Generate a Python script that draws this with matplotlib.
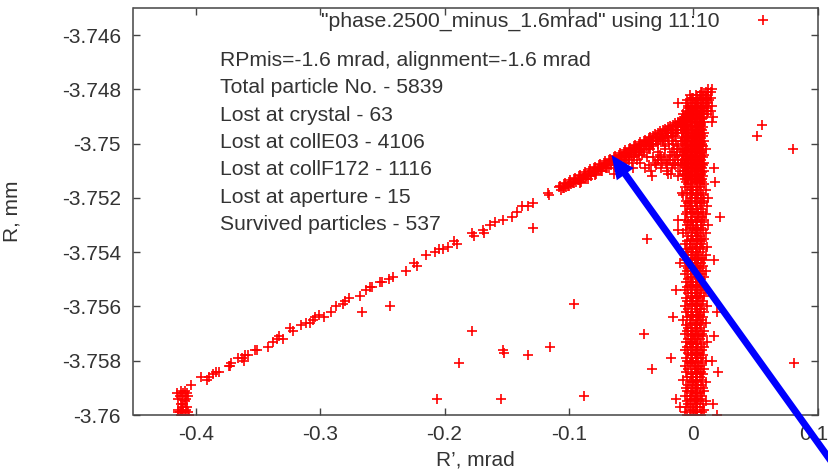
#!/usr/bin/env python

import matplotlib
matplotlib.use("Agg")
import matplotlib.pyplot as plt
from matplotlib.transforms import ScaledTranslation

plt.rcParams['font.family'] = ['Liberation Sans', 'DejaVu Sans']

# values, R' in mrad and R in mm
x_ticks = [-0.4, -0.3, -0.2, -0.1, 0, 0.1]
x_labels = ['-0.4', '-0.3', '-0.2', '-0.1', '0', '0.1']
y_ticks = [-3.746, -3.748, -3.75, -3.752, -3.754, -3.756, -3.758, -3.76]
y_labels = ['-3.746', '-3.748', '-3.75', '-3.752', '-3.754', '-3.756', '-3.758', '-3.76']

info_lines = ['RPmis=-1.6 mrad, alignment=-1.6 mrad',
              'Total particle No. - 5839',
              'Lost at crystal - 63',
              'Lost at collE03 - 4106',
              'Lost at collF172 - 1116',
              'Lost at aperture - 15',
              'Survived particles - 537']

key_label = '"phase.2500_minus_1.6mrad" using 11:10'

# clump at the low end of the tail
clump_x = [-.415, -.412, -.409, -.407, -.413, -.410, -.406, -.414, -.411, -.408,
           -.412, -.409, -.414, -.411, -.407, -.413, -.410, -.408, -.406, -.412,
           -.409, -.414, -.411, -.405, -.410]
clump_y = [-3.7592, -3.7591, -3.7591, -3.7592, -3.7593, -3.7592, -3.7593, -3.7594, -3.7593, -3.7594,
           -3.7596, -3.7595, -3.7598, -3.7598, -3.7597, -3.7599, -3.7599, -3.7598, -3.7599, -3.7600,
           -3.7600, -3.7599, -3.7597, -3.7600, -3.7596]

# the long thin tail
tail_x = [-.404, -.3954, -.391, -.389, -.386, -.3834, -.381, -.373, -.372, -.3725,
          -.366, -.3625, -.3615, -.36, -.358, -.3526, -.351, -.3418, -.338, -.335,
          -.333, -.33, -.324, -.3218, -.315, -.3116, -.308, -.306, -.304, -.301,
          -.297, -.291, -.2875, -.2816, -.28, -.277, -.2676, -.2634, -.26, -.258,
          -.252, -.25, -.2446, -.2414, -.2306, -.2248, -.2225, -.2145, -.2078, -.2046,
          -.201, -.197, -.192, -.19, -.178, -.176, -.169, -.168, -.1635, -.1595,
          -.153, -.146, -.1415, -.138, -.133, -.129, -.117, -.116]
tail_y = [-3.7589, -3.7586, -3.7587, -3.7586, -3.7585, -3.7584, -3.7584, -3.7582, -3.7581, -3.7582,
          -3.7579, -3.7579, -3.7580, -3.7578, -3.7578, -3.7576, -3.7576, -3.7575, -3.7573, -3.7572,
          -3.7571, -3.7572, -3.7568, -3.7569, -3.7567, -3.7566, -3.7566, -3.7565, -3.7564, -3.7563,
          -3.7564, -3.7562, -3.7560, -3.7559, -3.7558, -3.7557, -3.7556, -3.7554, -3.7553, -3.7553,
          -3.7551, -3.7551, -3.7550, -3.7549, -3.7547, -3.7544, -3.7545, -3.7541, -3.7540, -3.7539,
          -3.7539, -3.7538, -3.7536, -3.7537, -3.7533, -3.7534, -3.7532, -3.7533, -3.7530, -3.7529,
          -3.7528, -3.7527, -3.7525, -3.7523, -3.7523, -3.7522, -3.7518, -3.7519]

# thick ridge running up to the top of the stem, rows of points
ridge_x1 = [-.108, -.104, -.100, -.096, -.092, -.088, -.084, -.080, -.076, -.072,
            -.068, -.064, -.060, -.056, -.052, -.048, -.044, -.040, -.036, -.032,
            -.028, -.024, -.020, -.016, -.012, -.008, -.004]
ridge_y1 = [-3.7516, -3.7515, -3.7514, -3.7513, -3.7512, -3.7511, -3.7510, -3.7509, -3.7508, -3.7507,
            -3.7506, -3.7505, -3.7504, -3.7503, -3.7502, -3.7501, -3.7500, -3.7499, -3.7498, -3.7497,
            -3.7496, -3.7495, -3.7494, -3.7493, -3.7492, -3.7491, -3.7490]
ridge_x2 = [-.106, -.102, -.098, -.094, -.090, -.086, -.082, -.078, -.074, -.070,
            -.066, -.062, -.058, -.054, -.050, -.046, -.042, -.038, -.034, -.030,
            -.026, -.022, -.018, -.014, -.010, -.006, -.002]
ridge_y2 = [-3.7517, -3.7516, -3.7515, -3.7514, -3.7513, -3.7512, -3.7511, -3.7510, -3.7509, -3.7508,
            -3.7507, -3.7506, -3.7505, -3.7504, -3.7503, -3.7502, -3.7501, -3.7500, -3.7499, -3.7498,
            -3.7497, -3.7496, -3.7495, -3.7494, -3.7493, -3.7492, -3.7491]
ridge_x3 = [-.090, -.086, -.082, -.078, -.074, -.070, -.066, -.062, -.058, -.054,
            -.050, -.046, -.042, -.038, -.034, -.030, -.026, -.022, -.018, -.014,
            -.010, -.006, -.002]
ridge_y3 = [-3.7514, -3.7513, -3.7512, -3.7511, -3.7510, -3.7509, -3.7508, -3.7507, -3.7506, -3.7505,
            -3.7504, -3.7503, -3.7502, -3.7501, -3.7500, -3.7499, -3.7498, -3.7497, -3.7496, -3.7495,
            -3.7494, -3.7493, -3.7492]
ridge_x4 = [-.068, -.064, -.060, -.056, -.052, -.048, -.044, -.040, -.036, -.032,
            -.028, -.024, -.020, -.016, -.012]
ridge_y4 = [-3.7509, -3.7508, -3.7507, -3.7506, -3.7505, -3.7504, -3.7503, -3.7502, -3.7501, -3.7500,
            -3.7499, -3.7498, -3.7497, -3.7496, -3.7495]
ridge_x5 = [-.107, -.103, -.099, -.095, -.091, -.087, -.083, -.079, -.075, -.071,
            -.067, -.063, -.059, -.055, -.051, -.047, -.043, -.039, -.035, -.031,
            -.027, -.023, -.019, -.015, -.011, -.007, -.003]
ridge_y5 = [-3.75155, -3.75145, -3.75135, -3.75125, -3.75115, -3.75105, -3.75095, -3.75085, -3.75075, -3.75065,
            -3.75055, -3.75045, -3.75035, -3.75025, -3.75015, -3.75005, -3.74995, -3.74985, -3.74975, -3.74965,
            -3.74955, -3.74945, -3.74935, -3.74925, -3.74915, -3.74905, -3.74895]
ridge_x6 = [-.105, -.101, -.097, -.093, -.089, -.085, -.081, -.077, -.073, -.069,
            -.065, -.061, -.057, -.053, -.049, -.045, -.041, -.037, -.033, -.029,
            -.025, -.021, -.017, -.013, -.009, -.005, -.001]
ridge_y6 = [-3.75165, -3.75155, -3.75145, -3.75135, -3.75125, -3.75115, -3.75105, -3.75095, -3.75085, -3.75075,
            -3.75065, -3.75055, -3.75045, -3.75035, -3.75025, -3.75015, -3.75005, -3.74995, -3.74985, -3.74975,
            -3.74965, -3.74955, -3.74945, -3.74935, -3.74925, -3.74915, -3.74905]
ridge_x7 = [-.091, -.085, -.079, -.073, -.069, -.063, -.057, -.053, -.047, -.043,
            -.037, -.033, -.027, -.023, -.017, -.013]
ridge_y7 = [-3.75145, -3.7513, -3.75115, -3.7510, -3.7509, -3.75075, -3.7506, -3.7505, -3.75035, -3.75025,
            -3.7501, -3.7500, -3.74985, -3.74975, -3.7496, -3.7495]
ridge_x8 = [-.104, -.100, -.096, -.092, -.088, -.084, -.080, -.076, -.072]
ridge_y8 = [-3.75165, -3.75155, -3.75145, -3.75135, -3.75125, -3.75115, -3.75105, -3.75095, -3.75085]
ridge_x9 = [-.060, -.056, -.052, -.048, -.044, -.040, -.036, -.032, -.028, -.024, -.020, -.016]
ridge_y9 = [-3.7508, -3.7507, -3.7506, -3.7505, -3.7504, -3.7503, -3.7502, -3.7501, -3.7500, -3.7499, -3.7498, -3.7497]

# loose points under the ridge
wedge_x = [-.0336, -.0389, -.0416, -.0255, -.0175, -.0120, -.0175, -.0120, -.0080, -.0095,
           -.0230, -.0190, -.0285, -.0349, -.0080, -.0100, -.0120, -.0482, -.0495, -.0550,
           -.0300, -.0260, -.0210, -.0150, -.0340, -.0430, -.0600, -.0640, -.0240, -.0220,
           -.0200, -.0270, -.0310, -.0170, -.0150, -.0130, -.0110, -.0185, -.0165, -.0145,
           -.0285, -.0215, -.0195, -.0135, -.0375, -.0355, -.0260, -.0235, -.0205, -.0180,
           -.0155, -.0125, -.0105, -.0280, -.0225, -.0160, -.0140, -.0325, -.0450, -.0520]
wedge_y = [-3.7512, -3.7509, -3.7504, -3.7507, -3.7509, -3.7512, -3.7499, -3.7501, -3.7496, -3.7499,
           -3.7502, -3.7504, -3.7506, -3.7502, -3.7504, -3.7507, -3.7508, -3.7509, -3.7507, -3.7507,
           -3.7508, -3.7509, -3.7510, -3.7505, -3.7510, -3.7507, -3.7510, -3.7511, -3.7499, -3.7507,
           -3.7511, -3.7504, -3.7507, -3.7503, -3.7497, -3.7504, -3.7510, -3.7506, -3.7500, -3.7508,
           -3.7503, -3.7508, -3.7500, -3.7502, -3.7505, -3.7508, -3.7505, -3.7505, -3.7506, -3.7511,
           -3.7502, -3.7506, -3.7503, -3.7506, -3.7501, -3.7507, -3.7499, -3.7505, -3.7506, -3.7505]

# solid stem below the ridge
stem_y = [-3.7488, -3.7489, -3.7490, -3.7491, -3.7492, -3.7493, -3.7494, -3.7495, -3.7496, -3.7497,
          -3.7498, -3.7499, -3.7500, -3.7501, -3.7502, -3.7503, -3.7504, -3.7505, -3.7506, -3.7507,
          -3.7508, -3.7509, -3.7510, -3.7511, -3.7512, -3.7513]
stem_x1 = [-.006, -.008, -.007, -.009, -.006, -.008, -.007, -.009, -.008, -.006,
           -.009, -.007, -.008, -.006, -.009, -.007, -.008, -.006, -.009, -.007,
           -.008, -.006, -.007, -.008, -.006, -.007]
stem_x2 = [-.003, -.004, -.002, -.005, -.003, -.004, -.002, -.004, -.005, -.003,
           -.004, -.002, -.005, -.003, -.004, -.002, -.005, -.003, -.004, -.002,
           -.004, -.003, -.002, -.004, -.003, -.002]
stem_x3 = [.000, .001, -.001, .000, .001, -.001, .001, .000, -.001, .001,
           .000, -.001, .001, .000, .001, -.001, .000, .001, -.001, .000,
           .001, .000, .001, -.001, .001, .000]
stem_x4 = [.003, .004, .005, .003, .004, .005, .003, .005, .004, .003,
           .005, .004, .003, .005, .004, .003, .005, .004, .003, .005,
           .004, .003, .005, .004, .003, .004]
stem_x5 = [.007, .006, .008, .007, .009, .006, .008, .007, .009, .008,
           .006, .009, .007, .008, .010, .007, .009, .008, .006, .009,
           .008, .007, .009, .006, .008, .007]
stem_y2 = [-3.74885, -3.74895, -3.74905, -3.74915, -3.74925, -3.74935, -3.74945, -3.74955, -3.74965, -3.74975,
           -3.74985, -3.74995, -3.75005, -3.75015, -3.75025, -3.75035, -3.75045, -3.75055, -3.75065, -3.75075,
           -3.75085, -3.75095, -3.75105, -3.75115, -3.75125, -3.75135]
stem_x6 = [-.005, -.006, -.004, -.007, -.005, -.006, -.004, -.007, -.006, -.004,
           -.007, -.005, -.006, -.004, -.007, -.005, -.006, -.004, -.007, -.005,
           -.006, -.004, -.005, -.006, -.004, -.005]
stem_x7 = [-.001, .000, .002, -.002, .001, .002, -.001, .002, .001, -.001,
           .002, .001, -.002, .002, -.001, .001, .002, -.002, .001, .002,
           -.001, .002, -.001, .001, -.001, .002]
stem_x8 = [.005, .003, .006, .005, .006, .003, .006, .004, .006, .005,
           .003, .006, .005, .004, .007, .005, .006, .005, .004, .007,
           .006, .004, .007, .003, .005, .006]

# cap above the ridge
cap_x = [.012, .015, .010, .014, .006, .009, .012, .002, .005, .008, .011, .014,
         -.003, .000, .003, .006, .010, .013, -.005, -.002, .001, .004, .008, .012,
         -.006, -.003, .000, .003, .007, .011, .015, -.004, -.001, .002, .006, .010,
         .014, -.002, .001, .005, .009, .012, .016, .000, .004, .008, .011, .015,
         .007, .010, .004, -.001, .002, .005, -.004, .001, .006, .009, -.002, .003]
cap_y = [-3.7480, -3.7480, -3.7481, -3.7481, -3.7481, -3.7482, -3.7482, -3.7482, -3.7482, -3.7483, -3.7483, -3.7483,
         -3.7482, -3.7483, -3.7483, -3.7484, -3.7484, -3.7484, -3.7484, -3.7484, -3.7485, -3.7485, -3.7485, -3.7485,
         -3.7485, -3.7486, -3.7486, -3.7486, -3.7486, -3.7486, -3.7486, -3.7487, -3.7487, -3.7487, -3.7487, -3.7487,
         -3.7488, -3.7488, -3.7488, -3.7488, -3.7488, -3.7488, -3.7490, -3.7489, -3.7489, -3.7489, -3.7489, -3.7492,
         -3.7481, -3.7483, -3.7484, -3.7483, -3.7485, -3.7484, -3.7486, -3.7486, -3.7487, -3.7486, -3.7488, -3.7488]

# long vertical band, points per row
band_y = [-3.7514, -3.7515, -3.7516, -3.7517, -3.7518, -3.7519, -3.7520, -3.7521, -3.7522, -3.7523,
          -3.7524, -3.7525, -3.7526, -3.7527, -3.7528, -3.7529, -3.7530, -3.7531, -3.7532, -3.7533,
          -3.7534, -3.7535, -3.7536, -3.7537, -3.7538, -3.7539, -3.7540, -3.7541, -3.7542, -3.7543,
          -3.7544, -3.7545, -3.7546, -3.7547, -3.7548, -3.7549, -3.7550, -3.7551, -3.7552, -3.7553,
          -3.7554, -3.7555, -3.7556, -3.7557, -3.7558, -3.7559, -3.7560, -3.7561, -3.7562, -3.7563,
          -3.7564, -3.7565, -3.7566, -3.7567, -3.7568, -3.7569, -3.7570, -3.7571, -3.7572, -3.7573,
          -3.7574, -3.7575, -3.7576, -3.7577, -3.7578, -3.7579, -3.7580, -3.7581, -3.7582, -3.7583,
          -3.7584, -3.7585, -3.7586, -3.7587, -3.7588, -3.7589, -3.7590, -3.7591, -3.7592, -3.7593,
          -3.7594, -3.7595, -3.7596, -3.7597, -3.7598, -3.7599, -3.7600]
band_x1 = [-.006, -.004, -.007, -.003, -.005, -.008, -.002, -.006, -.004, -.007,
           -.003, -.005, -.006, -.002, -.007, -.004, -.005, -.003, -.006, -.008,
           -.004, -.002, -.005, -.007, -.003, -.006, -.004, -.005, -.002, -.007,
           -.003, -.006, -.004, -.005, -.007, -.002, -.004, -.006, -.003, -.005,
           -.007, -.004, -.002, -.006, -.005, -.003, -.007, -.004, -.006, -.002,
           -.005, -.008, -.003, -.006, -.004, -.005, -.007, -.002, -.004, -.006,
           -.003, -.005, -.007, -.004, -.002, -.006, -.005, -.003, -.007, -.004,
           -.006, -.002, -.005, -.008, -.003, -.004, -.006, -.005, -.002, -.007,
           -.003, -.005, -.004, -.006, -.003, -.007, -.005]
band_x2 = [.001, -.001, .003, .000, .002, -.001, .004, .001, .002, -.002,
           .003, .000, .001, .004, -.001, .002, .000, .003, .001, -.001,
           .002, .004, .000, .001, .003, -.001, .002, .000, .004, .001,
           .002, -.001, .003, .000, .001, .004, .002, -.001, .000, .003,
           .001, .002, .004, -.001, .000, .003, .001, .002, -.001, .004,
           .000, .002, .003, .001, -.001, .002, .000, .004, .001, .003,
           -.001, .002, .000, .001, .003, .002, -.001, .000, .004, .001,
           .002, .003, -.001, .000, .002, .001, .003, -.001, .002, .000,
           .004, .001, .002, .000, .003, .001, .002]
band_x3 = [.007, .009, .005, .010, .006, .008, .012, .009, .007, .011,
           .006, .008, .010, .005, .009, .007, .012, .006, .008, .010,
           .005, .009, .007, .006, .011, .008, .005, .010, .007, .009,
           .006, .008, .005, .010, .007, .009, .006, .005, .008, .007,
           .010, .006, .009, .005, .008, .007, .011, .006, .009, .005,
           .008, .007, .010, .006, .005, .009, .007, .008, .005, .011,
           .006, .009, .007, .005, .008, .006, .010, .007, .005, .009,
           .006, .008, .005, .007, .010, .006, .008, .009, .005, .007,
           .006, .010, .008, .005, .009, .007, .006]
band_x4 = [.003, .005, -.002, .004, -.001, .003, .006, -.003, .005, .003,
           -.001, .004, .004, .007, .003, -.002, .006, .000, .004, .003,
           -.001, .006, .003, -.003, .005, .002, -.001, .004, .001, .003,
           -.001, .004, .000, .005, .003, -.002, .005, .002, .004, -.002,
           .005, -.001, .003, .002, .004, -.001, .003, .005, .003, -.001,
           .004, -.002, .005, .003, .002, -.002, .004, .001, -.002, .000,
           .003, -.002, .004, .003, -.001, .004, .002, -.002, .001, .004,
           .002, -.001, .003, .002, -.001, .004, .000, .002, .003, -.002,
           .001, .003, -.002, .003, .000, .003, -.002]

# single points away from the main shapes
stray_x = [-.0373, -.0957, -.178, -.0397, -.1528, -.152, -.1332, -.1153, -.1885, -.018,
           -.0335, .0809, -.206, -.1544, -.0879, .0549, .0514, .0799, -.0126, .0169,
           .0174, .0214, -.012, -.012, -.0094, .0188, -.016, .017, -.0107, -.014,
           .0196, .0153, -.0142, .016, .0188, -.0107, .0169, -.266, -.2435, -.129]
stray_y = [-3.7535, -3.7559, -3.7569, -3.7570, -3.7576, -3.7577, -3.7578, -3.7575, -3.7581, -3.7579,
           -3.7583, -3.7581, -3.7594, -3.7594, -3.7593, -3.7493, -3.7497, -3.7502, -3.7485, -3.7509,
           -3.7514, -3.7527, -3.7528, -3.7532, -3.7518, -3.7562, -3.7564, -3.7543, -3.7544, -3.7554,
           -3.7584, -3.7580, -3.7594, -3.7596, -3.7600, -3.7597, -3.7571, -3.7562, -3.7560, -3.7531]

all_x = (clump_x + tail_x + ridge_x1 + ridge_x2 + ridge_x3 + ridge_x4 + ridge_x5 + ridge_x6 + ridge_x7
         + ridge_x8 + ridge_x9 + wedge_x + stem_x1 + stem_x2 + stem_x3 + stem_x4 + stem_x5 + stem_x6
         + stem_x7 + stem_x8 + cap_x + band_x1 + band_x2 + band_x3 + band_x4 + stray_x)
all_y = (clump_y + tail_y + ridge_y1 + ridge_y2 + ridge_y3 + ridge_y4 + ridge_y5 + ridge_y6 + ridge_y7
         + ridge_y8 + ridge_y9 + wedge_y + stem_y * 5 + stem_y2 * 3 + cap_y + band_y * 4 + stray_y)

text_col = '#333333'

fig = plt.figure(figsize=(8.29, 4.69), dpi=100)
ax = fig.add_axes([133.5 / 829, 54 / 469, 684.2 / 829, 407 / 469])

ax.plot(all_x, all_y, '+', color='#ff0000', ms=7, mew=1.2, label=key_label)

ax.set_xlim(-0.45, 0.1)
ax.set_ylim(-3.76, -3.745)
ax.set_xticks(x_ticks)
ax.set_xticklabels(x_labels)
ax.set_yticks(y_ticks)
ax.set_yticklabels(y_labels)
ax.tick_params(direction='in', length=5, width=1, top=True, right=True,
               labelsize=15, labelcolor=text_col, color='#444444')
ax.tick_params(axis='x', pad=7)
ax.tick_params(axis='y', pad=9)
for s in ax.spines.values():
    s.set_color('#444444')
    s.set_linewidth(1.1)

# the 0.1 label sits a little left of its tick, the figure edge is right there
last = ax.get_xticklabels()[-1]
last.set_transform(last.get_transform() + ScaledTranslation(-3 / 72, 0, fig.dpi_scale_trans))

ax.set_xlabel('R\u2019, mrad', fontsize=15, color=text_col)
ax.set_ylabel('R, mm', fontsize=15, color=text_col)
ax.xaxis.set_label_coords(0.5, -0.087)
ax.yaxis.set_label_coords(-0.163, 0.5)

ax.legend(loc='upper right', frameon=False, markerfirst=False, fontsize=15.3,
          labelcolor=text_col, handlelength=1.5, handletextpad=1.3, borderaxespad=0,
          borderpad=0.1, bbox_to_anchor=(0.946, 0.995))

for i, line in enumerate(info_lines):
    ax.text(0.1265, 0.8715 - i * 0.0672, line, transform=ax.transAxes, fontsize=15.2,
            color=text_col, va='center', ha='left')

# blue arrow is drawn over everything, tail runs off the figure
ax.annotate('', xy=(611.5, 314), xytext=(836, 1), xycoords='figure pixels',
            textcoords='figure pixels', annotation_clip=False, zorder=10,
            arrowprops=dict(facecolor='#0000ff', edgecolor='#0000ff', width=5,
                            headwidth=15, headlength=17, shrink=0, lw=0))

fig.savefig('out.png', dpi=100)
